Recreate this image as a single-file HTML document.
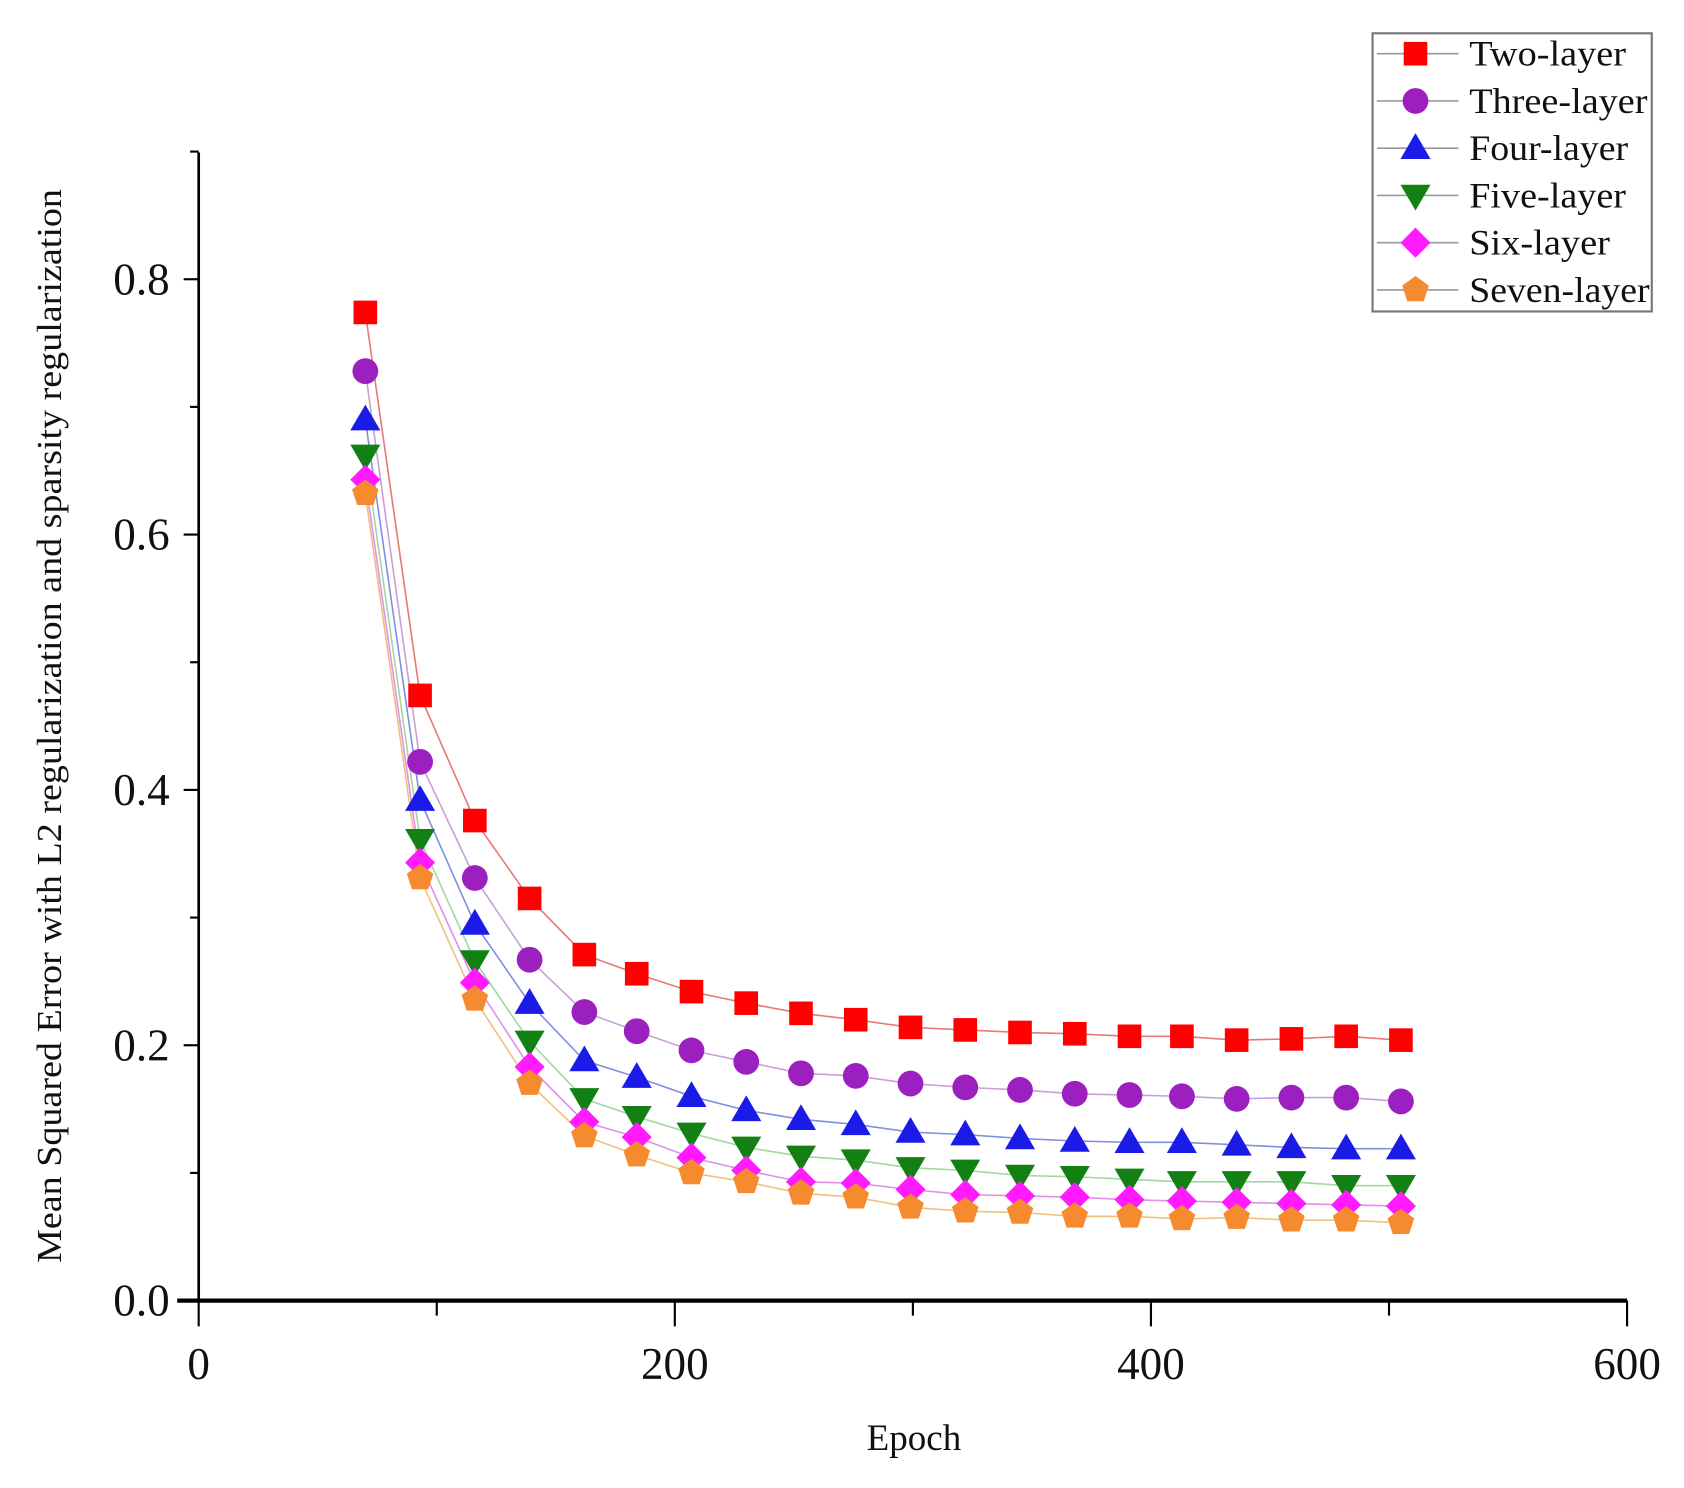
<!DOCTYPE html>
<html><head><meta charset="utf-8"><style>
html,body{margin:0;padding:0;background:#fff;}
svg{display:block;}
text{font-family:"Liberation Serif",serif;fill:#111;}
</style></head><body>
<svg id="chart" width="1684" height="1488" viewBox="0 0 1568 1385.5" preserveAspectRatio="none" xmlns="http://www.w3.org/2000/svg">
<g id="axes"></g>
<g id="series"></g>
<g id="legend"></g>
<text transform="translate(57,676) rotate(-90)" text-anchor="middle" font-size="32" textLength="1000" lengthAdjust="spacingAndGlyphs">Mean Squared Error with L2 regularization and sparsity regularization</text>
<text x="851" y="1350" text-anchor="middle" font-size="34" textLength="88" lengthAdjust="spacingAndGlyphs">Epoch</text>
</svg>
<script>
const epochs=[70,93,116,139,162,184,207,230,253,276,299,322,345,368,391,413,436,459,482,505];
const seriesNames=["Two-layer","Three-layer","Four-layer","Five-layer","Six-layer","Seven-layer"];
const twoLayer=[0.774,0.474,0.376,0.315,0.271,0.256,0.242,0.233,0.225,0.220,0.214,0.212,0.210,0.209,0.207,0.207,0.204,0.205,0.207,0.204];
const threeLayer=[0.728,0.422,0.331,0.267,0.226,0.211,0.196,0.187,0.178,0.176,0.170,0.167,0.165,0.162,0.161,0.160,0.158,0.159,0.159,0.156];
const fourLayer=[0.690,0.392,0.295,0.233,0.188,0.175,0.160,0.149,0.142,0.138,0.132,0.130,0.127,0.125,0.124,0.124,0.122,0.120,0.119,0.119];
const fiveLayer=[0.662,0.361,0.266,0.203,0.158,0.144,0.131,0.120,0.113,0.110,0.104,0.102,0.098,0.097,0.095,0.093,0.093,0.093,0.090,0.090];
const sixLayer=[0.643,0.343,0.249,0.183,0.140,0.128,0.112,0.102,0.093,0.092,0.087,0.083,0.082,0.081,0.079,0.078,0.077,0.076,0.075,0.074];
const sevenLayer=[0.632,0.331,0.236,0.170,0.129,0.114,0.100,0.093,0.084,0.081,0.073,0.070,0.069,0.066,0.066,0.064,0.065,0.063,0.063,0.061];
const xTicks=[0,200,400,600];
const yTicks=["0.0","0.2","0.4","0.6","0.8"];

const NS="http://www.w3.org/2000/svg";
const X0=185,X1=1515,Y0=1211,Y8=260;
function xs(v){return X0+(v/600)*(X1-X0);}
function ys(v){return Y0-(v/0.8)*(Y0-Y8);}
function mk(tag,attrs,parent){const e=document.createElementNS(NS,tag);for(const k in attrs)e.setAttribute(k,attrs[k]);parent.appendChild(e);return e;}

const axes=document.getElementById('axes');
let l=mk('line',{x1:X0,y1:142,x2:X0,y2:Y0,stroke:'#000','stroke-width':2.5},axes);


l=mk('line',{x1:165,y1:Y0,x2:X1,y2:Y0,stroke:'#000','stroke-width':4},axes);


for(let v=0;v<=600;v+=100){
  const t=mk('line',{x1:xs(v),y1:Y0,x2:xs(v),y2:Y0+(v%200===0?24:14),stroke:'#000','stroke-width':2},axes);
  
  
}
xTicks.forEach(v=>{
  const t=mk('text',{x:xs(v),y:1284,'text-anchor':'middle','font-size':42},axes);
  
  
  t.textContent=v;
});
for(let i=0;i<=9;i++){
  const v=i*0.1;
  const t=mk('line',{x1:X0,y1:ys(v),x2:X0-(i%2===0?14:8),y2:ys(v),stroke:'#000','stroke-width':2},axes);
  
  
}
yTicks.forEach(s=>{
  const t=mk('text',{x:158,y:ys(parseFloat(s))+14,'text-anchor':'end','font-size':42},axes);
  
  
  t.textContent=s;
});

const colors=['#ff0000','#9c1fc0','#1b1be8','#128012','#ff1aff','#f58a2e'];
const lineColors=['#e87878','#c8a0d8','#8090e0','#a0d8a0','#e090e8','#f0c080'];
const data=[twoLayer,threeLayer,fourLayer,fiveLayer,sixLayer,sevenLayer];
function marker(type,cx,cy,color,parent){
  let e;
  if(type===0)e=mk('rect',{x:cx-11,y:cy-11,width:22,height:22,fill:color},parent);
  else if(type===1)e=mk('circle',{cx:cx,cy:cy,r:12,fill:color},parent);
  else if(type===2)e=mk('polygon',{points:`${cx},${cy-14} ${cx+14},${cy+10} ${cx-14},${cy+10}`,fill:color},parent);
  else if(type===3)e=mk('polygon',{points:`${cx-14},${cy-10} ${cx+14},${cy-10} ${cx},${cy+14}`,fill:color},parent);
  else if(type===4)e=mk('polygon',{points:`${cx},${cy-14} ${cx+14},${cy} ${cx},${cy+14} ${cx-14},${cy}`,fill:color},parent);
  else{const p=[];for(let k=0;k<5;k++){const a=-Math.PI/2+k*2*Math.PI/5;p.push((cx+13*Math.cos(a))+','+(cy+13*Math.sin(a)));}e=mk('polygon',{points:p.join(' '),fill:color},parent);}
  return e;
}
const sg=document.getElementById('series');
data.forEach((arr,si)=>{
  const g=mk('g',{},sg);
  
  
  const pl=mk('polyline',{points:arr.map((v,i)=>xs(epochs[i])+','+ys(v)).join(' '),fill:'none',stroke:lineColors[si],'stroke-width':1.5},g);
  
  
});
data.forEach((arr,si)=>{
  arr.forEach((v,i)=>{
    const m=marker(si,xs(epochs[i]),ys(v),colors[si],sg);
    
    
  });
});

const legendWidths=[146,166,148,146,131,168];
const lg=document.getElementById('legend');
const box=mk('rect',{x:1278,y:31,width:260,height:259,fill:'#fff',stroke:'#777','stroke-width':2},lg);


seriesNames.forEach((n,si)=>{
  const y=50+si*44;
  const g=mk('g',{},lg);
  
  
  mk('line',{x1:1282,y1:y,x2:1358,y2:y,stroke:'#999','stroke-width':1.5},g);
  marker(si,1318,y,colors[si],g);
  const t=mk('text',{x:1368,y:y+11,'font-size':33,textLength:legendWidths[si],lengthAdjust:'spacingAndGlyphs'},g);
  t.textContent=n;
});
</script>
</body></html>
